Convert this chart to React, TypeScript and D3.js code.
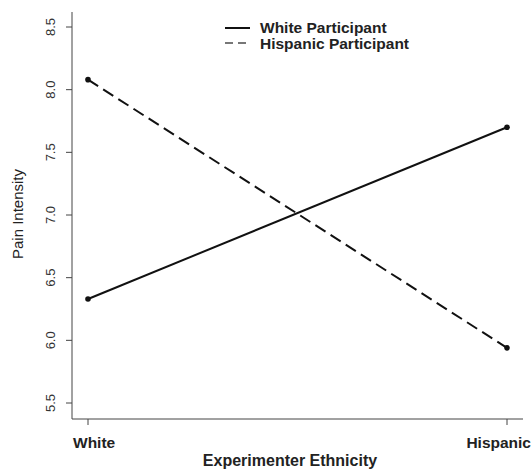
import React from "react";
import * as d3 from "d3";

const categories = ["White", "Hispanic"];
const whiteParticipant = [6.33, 7.7];
const hispanicParticipant = [8.08, 5.94];
const yTicks = [5.5, 6.0, 6.5, 7.0, 7.5, 8.0, 8.5];

export default function App() {
  const W = 531, H = 470;
  const x = d3.scalePoint<string>().domain(categories).range([88, 507]);
  const y = d3.scaleLinear().domain([5.5, 8.5]).range([403, 27]);
  const line = d3
    .line<number>()
    .x((_, i) => x(categories[i]) as number)
    .y((d) => y(d));
  const font = "'Liberation Sans', Arial, sans-serif";
  const axisColor = "#444";
  return (
    <svg width={W} height={H} style={{ position: "absolute", left: 0, top: 0, background: "#fff" }}>
      {/* axes */}
      <line x1={72} x2={72} y1={12} y2={419} stroke={axisColor} strokeWidth={1} />
      <line x1={72} x2={523} y1={419} y2={419} stroke={axisColor} strokeWidth={1} />
      {yTicks.map((t) => (
        <g key={t}>
          <line x1={66} x2={72} y1={y(t)} y2={y(t)} stroke={axisColor} />
          <text
            transform={`translate(55,${y(t)}) rotate(-90)`}
            textAnchor="middle"
            fontFamily={font}
            fontSize={13}
            fill="#333"
          >
            {t.toFixed(1)}
          </text>
        </g>
      ))}
      {categories.map((c) => (
        <line key={c} x1={x(c)} x2={x(c)} y1={419} y2={425} stroke={axisColor} />
      ))}
      <text x={73} y={448} fontFamily={font} fontSize={15.5} fontWeight="bold" fill="#222">
        White
      </text>
      <text x={531} y={448} textAnchor="end" fontFamily={font} fontSize={15.5} fontWeight="bold" fill="#222">
        Hispanic
      </text>
      <text x={290} y={466} textAnchor="middle" fontFamily={font} fontSize={16} fontWeight="bold" fill="#222">
        Experimenter Ethnicity
      </text>
      <text
        transform={`translate(23,214) rotate(-90)`}
        textAnchor="middle"
        fontFamily={font}
        fontSize={15}
        fill="#222"
      >
        Pain Intensity
      </text>
      {/* lines */}
      <path d={line(whiteParticipant) || ""} fill="none" stroke="#111" strokeWidth={2} />
      <path d={line(hispanicParticipant) || ""} fill="none" stroke="#111" strokeWidth={2} strokeDasharray="12,6" />
      {whiteParticipant.map((v, i) => (
        <circle key={"w" + i} cx={x(categories[i])} cy={y(v)} r={2.8} fill="#111" />
      ))}
      {hispanicParticipant.map((v, i) => (
        <circle key={"h" + i} cx={x(categories[i])} cy={y(v)} r={2.8} fill="#111" />
      ))}
      {/* legend */}
      <line x1={225} x2={250} y1={28} y2={28} stroke="#111" strokeWidth={2} />
      <line x1={225} x2={250} y1={43} y2={43} stroke="#777" strokeWidth={2} strokeDasharray="8,5" />
      <text x={260} y={33} fontFamily={font} fontSize={15.5} fontWeight="bold" fill="#222">
        White Participant
      </text>
      <text x={260} y={49} fontFamily={font} fontSize={15.5} fontWeight="bold" fill="#222">
        Hispanic Participant
      </text>
    </svg>
  );
}
